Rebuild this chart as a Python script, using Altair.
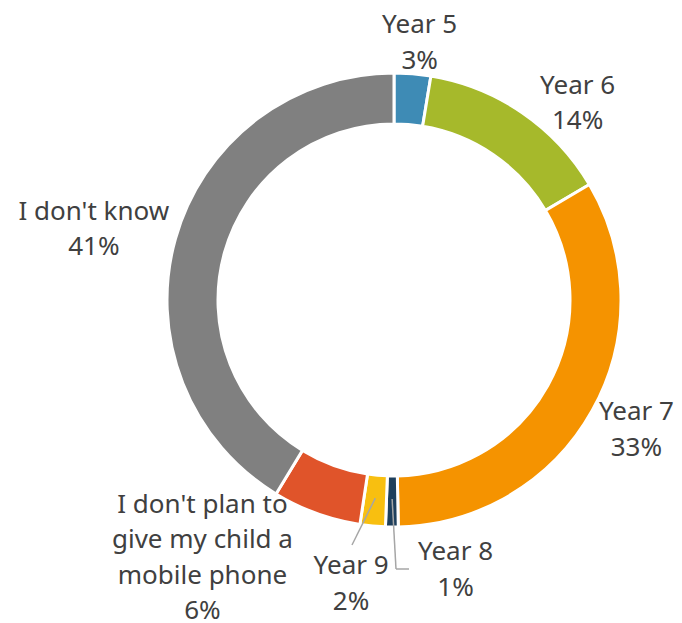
import math
import altair as alt
import pandas as pd

# ---- data ----
categories = [
    "Year 5", "Year 6", "Year 7", "Year 8", "Year 9",
    "I don't plan to give my child a mobile phone", "I don't know",
]
values = [2.6, 13.9, 33.2, 0.9, 1.8, 6.3, 41.3]
label_names = [
    ["Year 5"], ["Year 6"], ["Year 7"], ["Year 8"], ["Year 9"],
    ["I don't plan to", "give my child a", "mobile phone"], ["I don't know"],
]
colors = ["#3E8BB5", "#A6B92B", "#F59300", "#1E3F5C", "#F8BF10", "#E0542A", "#808080"]

# ---- layout / style ----
W, H = 666, 615
CX, CY = 386, 292
R_OUT, R_IN = 227, 176
LABEL_R = 265
FONT = "Noto Sans"
FONT_SIZE = 26
LINE_H = 35.5
TEXT_COLOR = "#404040"
# per-label nudges (dx, dy) of the label block centre relative to the mid-angle anchor
label_nudge = {
    "Year 5": (4, 7),
    "Year 6": (34, 22),
    "Year 7": (11, 1),
    "Year 8": (64, 5),
    "Year 9": (-18, 20),
    "I don't plan to give my child a mobile phone": (-101, 9),
    "I don't know": (-45, 1),
}

total = sum(values)
lines = [n + [f"{round(v)}%"] for n, v in zip(label_names, values)]
df = pd.DataFrame({
    "category": categories,
    "value": values,
    "order": list(range(len(categories))),
    "lines": lines,
})

color_scale = alt.Scale(domain=categories, range=colors)

arcs = alt.Chart(df).mark_arc(
    outerRadius=R_OUT, innerRadius=R_IN, stroke="white", strokeWidth=3
).encode(
    theta=alt.Theta("value:Q", stack=True),
    order=alt.Order("order:Q"),
    color=alt.Color("category:N", scale=color_scale, legend=None),
    x=alt.value(CX),
    y=alt.value(CY),
)

base = alt.Chart(df).transform_window(
    cum="sum(value)", sort=[alt.SortField("order")], frame=[None, 0]
).transform_calculate(
    mid="datum.cum - datum.value / 2",
    ang=f"2 * PI * (datum.cum - datum.value / 2) / {total}",
)

theta_mid = alt.Theta("mid:Q", scale=alt.Scale(domain=[0, total], range=[0, 2 * math.pi]))

text_layers = []
for c, ln in zip(categories, lines):
    dx, dy = label_nudge[c]
    dy -= (len(ln) - 1) * LINE_H / 2  # first line is anchored; centre the block
    t = base.transform_filter(
        alt.FieldEqualPredicate(field="category", equal=c)
    ).mark_text(
        radius=LABEL_R, dx=dx, dy=dy, fontSize=FONT_SIZE, lineHeight=LINE_H, font=FONT,
        color=TEXT_COLOR, align="center", baseline="middle",
    ).encode(
        theta=theta_mid,
        text=alt.Text("lines:N"),
        x=alt.value(CX),
        y=alt.value(CY),
    )
    text_layers.append(t)

# leader lines (Year 8 elbow, Year 9 straight)
leader_r = 199
lead_start = base.transform_calculate(
    lx=f"{CX} + {leader_r} * sin(datum.ang)",
    ly=f"{CY} - {leader_r} * cos(datum.ang)",
)
rule_style = dict(color="#A6A6A6", strokeWidth=1.5)
lead9 = lead_start.transform_filter(
    alt.FieldEqualPredicate(field="category", equal="Year 9")
).mark_rule(**rule_style).encode(
    x=alt.X("lx:Q", scale=None), y=alt.Y("ly:Q", scale=None),
    x2=alt.value(344), y2=alt.value(537),
)
lead8a = lead_start.transform_filter(
    alt.FieldEqualPredicate(field="category", equal="Year 8")
).mark_rule(**rule_style).encode(
    x=alt.X("lx:Q", scale=None), y=alt.Y("ly:Q", scale=None),
    x2=alt.value(388), y2=alt.value(561),
)
lead8b = lead_start.transform_filter(
    alt.FieldEqualPredicate(field="category", equal="Year 8")
).mark_rule(**rule_style).encode(
    x=alt.value(388), y=alt.value(561),
    x2=alt.value(401), y2=alt.value(561),
)

chart = alt.layer(arcs, lead9, lead8a, lead8b, *text_layers).properties(
    width=W, height=H,
    autosize=alt.AutoSizeParams(type="none"),
    padding=0,
    background="white",
).configure_view(stroke=None)

chart.save("out.html", embed_options={"renderer": "svg", "actions": False})
